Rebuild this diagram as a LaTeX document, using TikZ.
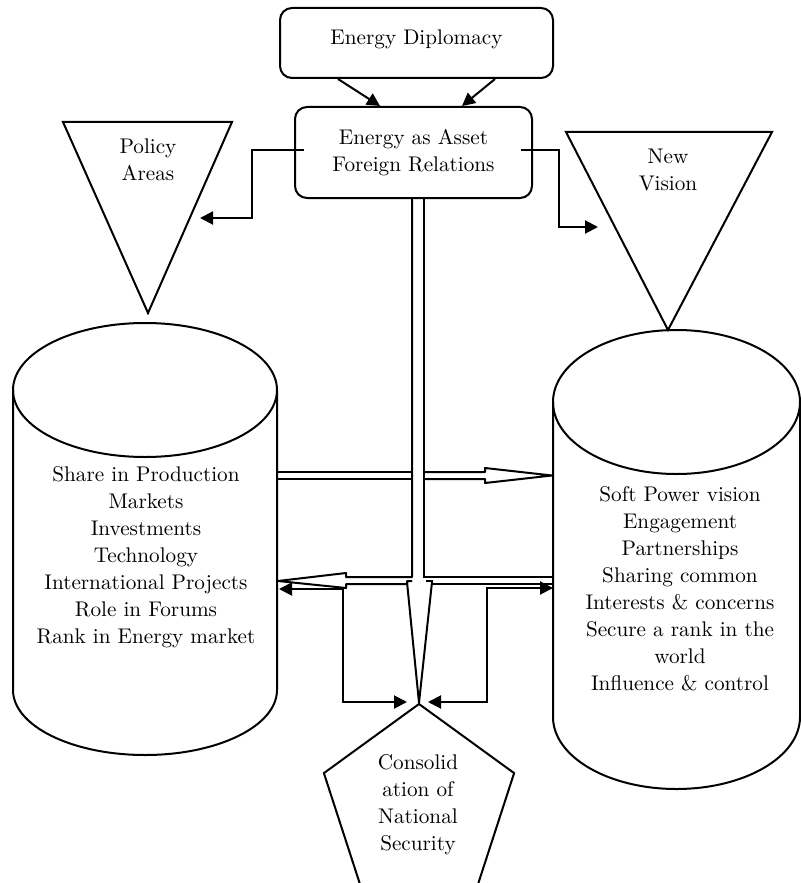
\documentclass[tikz,border=0pt]{standalone}
\usetikzlibrary{arrows.meta,shapes.geometric,calc}
\begin{document}
\begin{tikzpicture}[x=0.5pt,y=-0.5pt,line width=1pt,>={Triangle[length=6.5pt,width=6.5pt]},
  box/.style={draw,rounded corners=6pt,align=center,font=\fontsize{10.6}{13.5}\selectfont},
  txt/.style={align=center,font=\fontsize{10.6}{13.5}\selectfont}]
\useasboundingbox (0,0) rectangle (800,883);
% boxes on top
\node[box,minimum width=136.5pt,minimum height=35pt,text depth=6pt](dipl) at (416.5,43){Energy Diplomacy};
\node[box,minimum width=118.5pt,minimum height=45.5pt](asset) at (413.5,152.5){Energy as Asset\\Foreign Relations};
\draw[->]($(dipl.south)+(-78.5,0)$)--($(asset.north)+(-33.5,0)$);
\draw[->]($(dipl.south)+(78.5,0)$)--($(asset.north)+(48.5,0)$);
% triangles
\draw(63,122)--(232,122)--(148,313)--cycle;
\node[txt](policy) at (148,160){Policy\\Areas};
\draw(566,132)--(772,132)--(668,330)--cycle;
\node[txt](vision) at (668,170){New\\Vision};
\coordinate(policy-in) at (200,218);
\coordinate(vision-in) at (598,227);
\draw[->]($(asset.west)+(10,-2.5)$)-|(252,218)--(policy-in);
\draw[->]($(asset.east)+(-12,-2.5)$)-|(559,227)--(vision-in);
% cylinders
\draw(145,390) ellipse [x radius=132,y radius=67];
\draw(13,390)--(13,690) arc[start angle=180,end angle=0,x radius=132,y radius=65]--(277,390);
\node[txt](share) at (146,557){Share in Production\\Markets\\Investments\\Technology\\International Projects\\Role in Forums\\Rank in Energy market};
\draw(676.5,402) ellipse [x radius=123.5,y radius=72];
\draw(553,402)--(553,717) arc[start angle=180,end angle=0,x radius=123.5,y radius=72]--(800,402);
\node[txt](soft) at (680,589){Soft Power vision\\Engagement\\Partnerships\\Sharing common\\Interests \& concerns\\Secure a rank in the\\world\\Influence \& control};
% pentagon
\node[draw,regular polygon,regular polygon sides=5,minimum size=100pt,inner sep=0pt,txt](nat) at (419,804){};
\node[txt](natxt) at (418,805){Consolid\\ation of\\National\\Security};
% double shaft
\draw[line join=round]($(asset.south)+(-1.5,0)$)--(412,577)--(346,577)--(346,573)--(278,581)--(346,588)--(346,584)--(407,584)--(407,581)--(412,581);
\draw($(asset.south)+(10.5,0)$)--(424,577)--(553,577);
\draw(553,584)--(432,584)--(432,581)--(426,581);
\draw[line join=round](407,582)--(nat.corner 1)--(432,582);
\draw(277,472)--(412,472) (277,479)--(412,479);
\draw[line join=round](424,472)--(485,472)--(485,468)--(552,475.5)--(485,483)--(485,479)--(424,479);
% elbow arrows
\draw[<->](279,589)--(343,589)--(343,702)--(407,702);
\draw[<->](553,588)--(487,588)--(487,702)--(428,702);
\end{tikzpicture}
\end{document}
